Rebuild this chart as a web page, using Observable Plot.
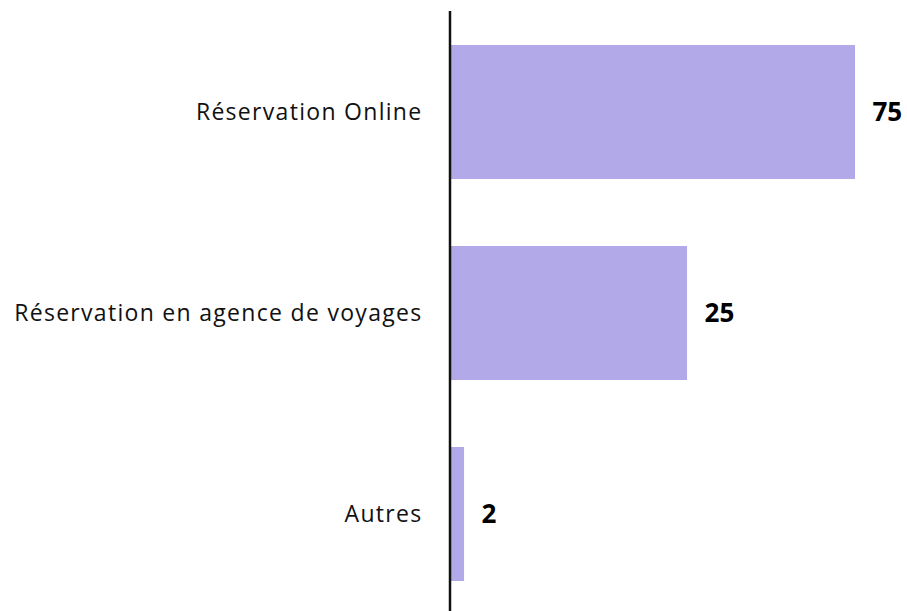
<!DOCTYPE html>
<html>
<head>
<meta charset="utf-8">
<script src="https://cdn.jsdelivr.net/npm/d3@7"></script>
<script src="https://cdn.jsdelivr.net/npm/@observablehq/plot@0.6"></script>
<style>
  html, body { margin: 0; padding: 0; background: #fff; }
  .cat-label text { letter-spacing: 1.3px; }
</style>
</head>
<body>
<div id="chart"></div>
<script>
const categories = ["Réservation Online", "Réservation en agence de voyages", "Autres"];
// bar lengths as drawn in the picture (relative to the 75 bar)
const barLengths = [75, 43.9, 2.6];
// value labels as printed
const valueLabels = ["75", "25", "2"];

const data = categories.map((c, i) => ({cat: c, len: barLengths[i], label: valueLabels[i]}));

const chart = Plot.plot({
  width: 907,
  height: 611,
  marginTop: 11,
  marginBottom: 0,
  marginLeft: 450,
  marginRight: 52,
  x: {domain: [0, 75], range: [450, 855], axis: null},
  y: {domain: categories, range: [11.5, 614.5], paddingInner: 1/3, paddingOuter: 1/6, axis: null},
  style: {fontFamily: "'Open Sans', sans-serif", background: "#fff"},
  marks: [
    Plot.barX(data, {x: "len", y: "cat", fill: "#b1a9e8"}),
    Plot.ruleX([0], {stroke: "#111", strokeWidth: 2.5, dx: -0.5}),
    Plot.text(data, {x: 0, y: "cat", text: "cat", textAnchor: "end", dx: -28, fontSize: 23, fill: "#111", className: "cat-label"}),
    Plot.text(data, {x: "len", y: "cat", text: "label", textAnchor: "start", dx: 17, fontSize: 26, fontWeight: "bold", fill: "#000"})
  ]
});
document.getElementById("chart").appendChild(chart);
</script>
</body>
</html>
